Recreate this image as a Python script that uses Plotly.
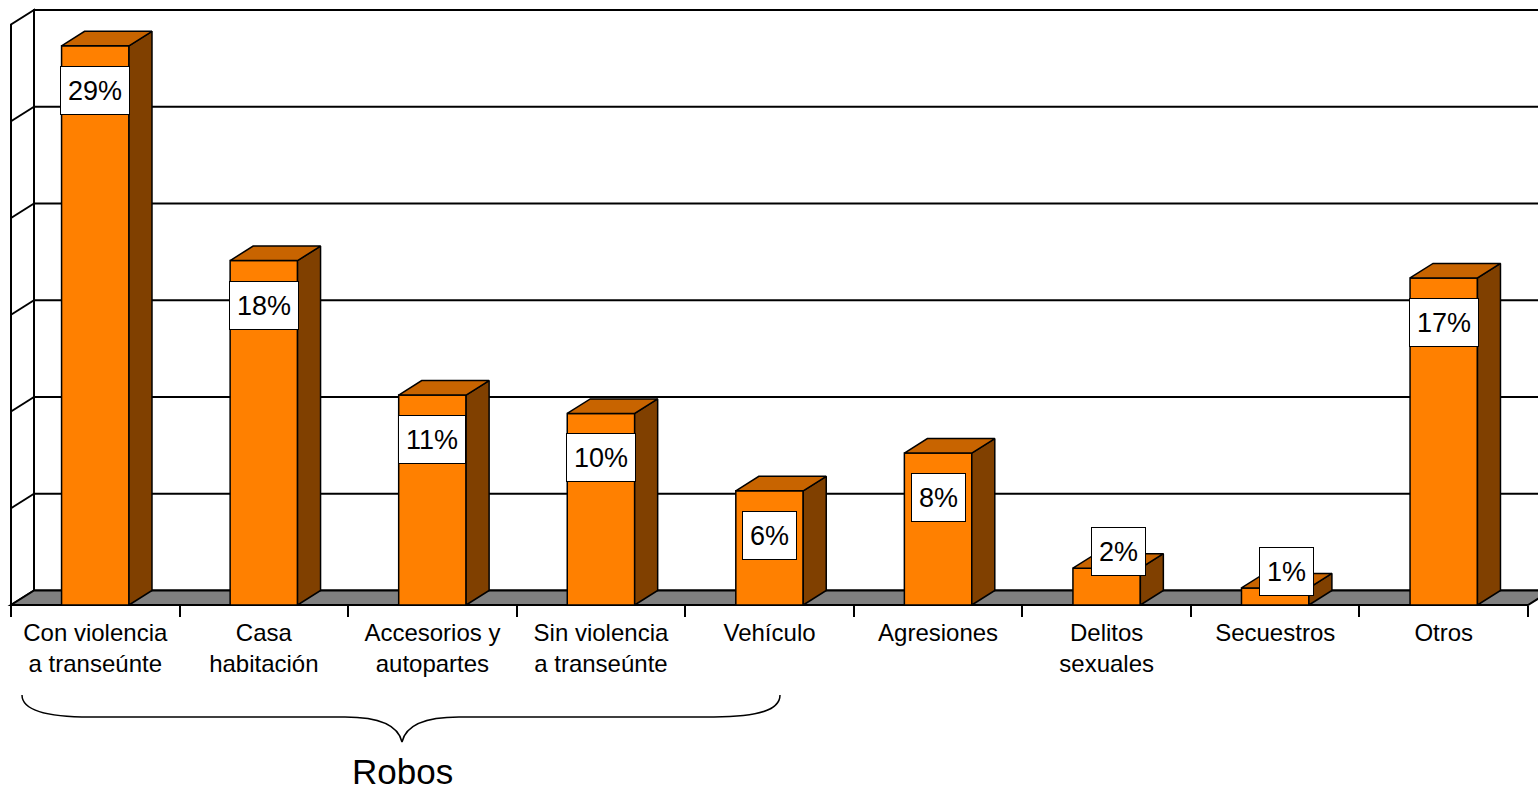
import plotly.graph_objects as go

# datos
categorias = ["Con violencia<br>a transeúnte", "Casa<br>habitación", "Accesorios y<br>autopartes",
              "Sin violencia<br>a transeúnte", "Vehículo", "Agresiones", "Delitos<br>sexuales",
              "Secuestros", "Otros"]
valores = [28.9, 17.8, 10.85, 9.9, 5.9, 7.85, 1.9, 0.88, 16.9]
grid_vals = [5, 10, 15, 20, 25, 30]

W, H = 1538, 790
PX_X = 168.56          # px por categoria
PX_Y = 19.35           # px por punto porcentual
X0_PX, Y0_PX = 11, 605  # borde izquierdo del piso y linea de 0

def px2x(px):
    return (px - X0_PX) / PX_X - 0.5

def px2y(py):
    return (Y0_PX - py) / PX_Y

# profundidad 3D
DX = 23 / PX_X
DY = 14.5 / PX_Y
BW = 0.40
XL, XR = -0.5, len(categorias) - 0.5
YMAX = grid_vals[-1]

FRENTE = "#FF8000"
TAPA = "#C86400"
LADO = "#804000"
PISO = "#808080"
FONT = "Liberation Sans, Arial, sans-serif"

fig = go.Figure()

xs = list(range(len(categorias)))

# caras frontales
fig.add_trace(go.Bar(x=xs, y=valores, width=BW, marker=dict(color=FRENTE, line=dict(color="black", width=1.5)),
                     hoverinfo="skip", showlegend=False))

# caras laterales y superiores
tx, ty, sx, sy = [], [], [], []
for i, v in zip(xs, valores):
    a, b = i - BW / 2, i + BW / 2
    tx += [a, b, b + DX, a + DX, a, None]
    ty += [v, v, v + DY, v + DY, v, None]
    sx += [b, b, b + DX, b + DX, b, None]
    sy += [0, v, v + DY, DY, 0, None]
fig.add_trace(go.Scatter(x=sx, y=sy, mode="lines", fill="toself", fillcolor=LADO,
                         line=dict(color="black", width=1.5), hoverinfo="skip", showlegend=False))
fig.add_trace(go.Scatter(x=tx, y=ty, mode="lines", fill="toself", fillcolor=TAPA,
                         line=dict(color="black", width=1.5), hoverinfo="skip", showlegend=False))

# paredes, piso y lineas de division
shapes = []
shapes.append(dict(type="rect", xref="x", yref="y", x0=XL + DX, x1=XR + DX + 1, y0=DY, y1=YMAX + DY,
                   fillcolor="white", line=dict(color="black", width=2), layer="below"))
shapes.append(dict(type="path", xref="x", yref="y",
                   path=f"M {XL},0 L {XL},{YMAX} L {XL + DX},{YMAX + DY} L {XL + DX},{DY} Z",
                   fillcolor="white", line=dict(color="black", width=2), layer="below"))
for g in grid_vals[:-1]:
    shapes.append(dict(type="line", xref="x", yref="y", x0=XL + DX, x1=XR + DX + 1, y0=g + DY, y1=g + DY,
                       line=dict(color="black", width=2), layer="below"))
    shapes.append(dict(type="line", xref="x", yref="y", x0=XL, x1=XL + DX, y0=g, y1=g + DY,
                       line=dict(color="black", width=2), layer="below"))
shapes.append(dict(type="path", xref="x", yref="y",
                   path=f"M {XL},0 L {XR},0 L {XR + DX},{DY} L {XL + DX},{DY} Z",
                   fillcolor=PISO, line=dict(color="black", width=2), layer="below"))

# llave "Robos"
def p(px, py):
    return f"{px2x(px)},{px2y(py)}"

llave = (f"M {p(22, 695)} C {p(22, 710)} {p(45, 717)} {p(90, 717)} L {p(345, 717)} "
         f"C {p(378, 717)} {p(398, 724)} {p(402, 742)} C {p(406, 724)} {p(426, 717)} {p(459, 717)} "
         f"L {p(714, 717)} C {p(759, 717)} {p(780, 710)} {p(780, 695)}")
shapes.append(dict(type="path", xref="x", yref="y", path=llave, line=dict(color="black", width=1.5)))

annotations = []
for i, v in zip(xs, valores):
    if v >= 3:
        ax_, ay_ = i, v - 2.3
    else:
        ax_, ay_ = i + DX / 2, v + 0.85
    annotations.append(dict(x=ax_, y=ay_, xref="x", yref="y", text=f"{round(v)}%", showarrow=False,
                            font=dict(family=FONT, size=27, color="black"), bgcolor="white", height=33,
                            bordercolor="black", borderwidth=1, borderpad=7))
annotations.append(dict(x=px2x(402), y=px2y(771), xref="x", yref="y", text="Robos", showarrow=False,
                        height=36, borderpad=0,
                        font=dict(family=FONT, size=35, color="black")))

fig.update_layout(
    width=W, height=H, margin=dict(l=0, r=0, t=0, b=0),
    paper_bgcolor="white", plot_bgcolor="white",
    shapes=shapes, annotations=annotations, showlegend=False,
    font=dict(family=FONT, color="black"),
    xaxis=dict(range=[px2x(0), px2x(W)], tickvals=xs, ticktext=categorias, ticks="", showgrid=False,
               zeroline=False, showline=False, anchor="free", position=(H - Y0_PX) / H,
               ticklabelstandoff=11,
               tickfont=dict(family=FONT, size=24, color="black"),
               minor=dict(tickvals=[k - 0.5 for k in range(len(categorias) + 1)], ticks="outside",
                          ticklen=11, tickwidth=2, tickcolor="black", showgrid=False)),
    yaxis=dict(range=[px2y(H), px2y(0)], visible=False, showgrid=False, zeroline=False),
)

fig.write_html("out.html", config={"displayModeBar": False},
               post_script="document.body.style.margin='0px';document.body.style.overflow='hidden';")
